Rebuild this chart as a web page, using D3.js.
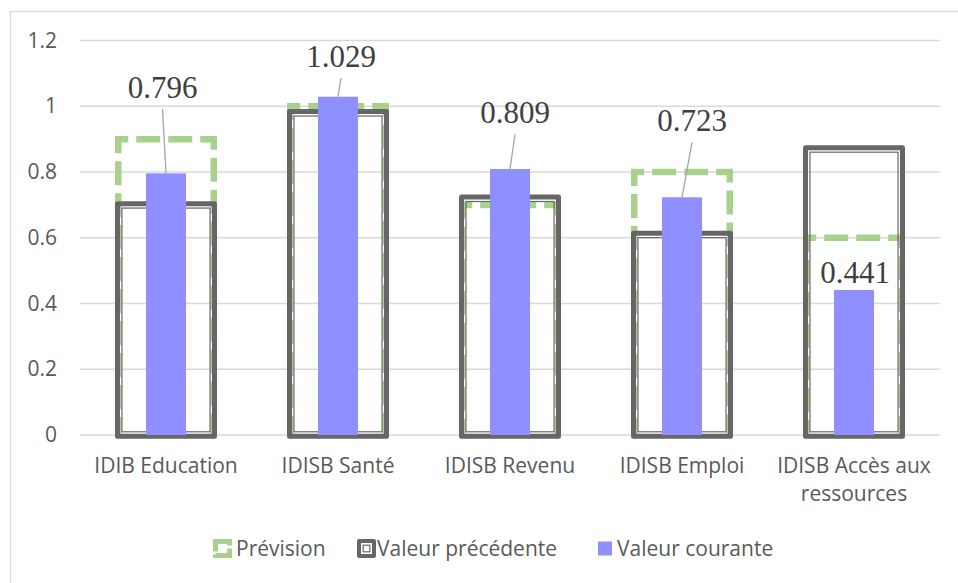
<!DOCTYPE html>
<html><head><meta charset="utf-8">
<script src="https://cdn.jsdelivr.net/npm/d3@7"></script>
<style>body{margin:0;background:#fff}</style></head>
<body>
<script>
// ---- data ----
const categories = ["IDIB Education", "IDISB Santé", "IDISB Revenu", "IDISB Emploi", "IDISB Accès aux ressources"];
const prevision  = [0.90, 1.00, 0.70, 0.80, 0.60];
const precedente = [0.70, 0.98, 0.72, 0.61, 0.87];
const courante   = [0.796, 1.029, 0.809, 0.723, 0.441];
const yTicks     = [0, 0.2, 0.4, 0.6, 0.8, 1, 1.2];
const seriesNames = ["Prévision", "Valeur précédente", "Valeur courante"];

// ---- layout (not data) ----
const W = 958, H = 583;
const labelOffsets = [[-3.5, -75.5, true], [3, -29.6, true], [5, -45.7, true], [10, -66, true], [1, -7, false]];
const GREEN = "#a9d18e", GRAY = "#666666", BLUE = "#8f8fff", TXT = "#595959";
const sansFont = "'Open Sans', 'Liberation Sans', sans-serif";
const FS = "21px";

const svg = d3.select("body").append("svg").attr("width", W).attr("height", H);
svg.append("rect").attr("width", W).attr("height", H).attr("fill", "#fff");
// outer chart border (extends past the picture right/bottom)
svg.append("rect").attr("x", 10.5).attr("y", 11.5).attr("width", 1200).attr("height", 1200)
  .attr("fill", "none").attr("stroke", "#d9d9d9").attr("stroke-width", 1.2);

const x = d3.scaleBand().domain(categories).range([80, 940]).padding(0);
const y = d3.scaleLinear().domain([0, 1.2]).range([435, 40.5]);

// gridlines
svg.append("g").selectAll("line").data(yTicks).join("line")
  .attr("x1", 80).attr("x2", 940).attr("y1", d => y(d)).attr("y2", d => y(d))
  .attr("stroke", "#d9d9d9").attr("stroke-width", 1.5);

// y axis labels
const yAxis = d3.axisLeft(y).tickValues(yTicks).tickSize(0).tickPadding(0).tickFormat(d3.format("~g"));
const ga = svg.append("g").attr("transform", "translate(57,0)").call(yAxis);
ga.select(".domain").remove();
ga.selectAll("text").attr("fill", TXT).style("font-family", sansFont).style("font-size", FS);

// x axis labels
const xAxis = d3.axisBottom(x).tickSize(0).tickPadding(0);
const gx = svg.append("g").attr("transform", "translate(0,442)").call(xAxis);
gx.select(".domain").remove();
gx.selectAll("text").attr("fill", TXT).style("font-family", sansFont).style("font-size", FS)
  .attr("dy", null).attr("y", 31)
  .each(function(d) {
    const t = d3.select(this);
    const words = d.split(" ");
    t.text(null);
    let line = [], lineNo = 0;
    let ts = t.append("tspan").attr("x", 0).attr("y", 31);
    for (const w of words) {
      line.push(w);
      ts.text(line.join(" "));
      if (ts.node().getComputedTextLength() > x.bandwidth() - 6 && line.length > 1) {
        line.pop(); ts.text(line.join(" "));
        line = [w]; lineNo++;
        ts = t.append("tspan").attr("x", 0).attr("y", 31 + lineNo * 28).text(w);
      }
    }
  });

const bw = 95.5;     // outline bar width
const cw = 40;       // current-value bar width
const cx = c => x(c) + x.bandwidth() / 2;

// Prévision: green dashed outline
const period = 32;
svg.append("g").selectAll("path").data(categories).join("path")
  .attr("d", (c, i) => {
    const L = cx(c) - bw / 2, R = cx(c) + bw / 2, T = y(prevision[i]), B = y(0);
    return `M${L},${B}L${L},${T}L${R},${T}L${R},${B}`;
  })
  .attr("fill", "none").attr("stroke", GREEN).attr("stroke-width", 6.5)
  .attr("stroke-dasharray", "24 8")
  .attr("stroke-dashoffset", (c, i) => {
    const len = y(0) - y(prevision[i]);
    return ((period - ((len - 14) % period)) % period + period) % period;
  });

// Valeur précédente: thick-thin double outline
const gp = svg.append("g");
categories.forEach((c, i) => {
  const L = cx(c) - 94.5 / 2, R = cx(c) + 94.5 / 2, T = y(precedente[i]), B = y(0);
  gp.append("rect").attr("x", L - 1.25).attr("y", T - 1.25)
    .attr("width", R - L + 2.5).attr("height", B - T + 2.5)
    .attr("fill", "none").attr("stroke", GRAY).attr("stroke-width", 5).attr("stroke-linejoin", "round");
  gp.append("rect").attr("x", L + 3.2).attr("y", T + 3.2)
    .attr("width", R - L - 6.4).attr("height", B - T - 6.4)
    .attr("fill", "none").attr("stroke", GRAY).attr("stroke-width", 1.2);
});

// Valeur courante: blue bars
svg.append("g").selectAll("rect").data(categories).join("rect")
  .attr("x", c => cx(c) - cw / 2).attr("width", cw)
  .attr("y", (c, i) => y(courante[i])).attr("height", (c, i) => y(0) - y(courante[i]))
  .attr("fill", BLUE);

// data labels + leader lines
const gl = svg.append("g");
categories.forEach((c, i) => {
  const [dx, dy, leader] = labelOffsets[i];
  const bx = cx(c), by = y(courante[i]);
  const lx = bx + dx, ly = by + dy;
  if (leader) {
    gl.append("line").attr("x1", lx).attr("y1", ly + 11).attr("x2", bx).attr("y2", by)
      .attr("stroke", "#a6a6a6").attr("stroke-width", 1.3);
  }
  gl.append("text").attr("x", lx).attr("y", ly).attr("text-anchor", "middle")
    .attr("fill", "#404040").style("font-family", "'Liberation Serif', 'Times New Roman', serif")
    .style("font-size", "31px").text(d3.format(".3f")(courante[i]));
});

// legend
const lg = svg.append("g");
const ly0 = 548.5;
// Prévision icon
lg.append("rect").attr("x", 215.5).attr("y", ly0 - 7).attr("width", 14).attr("height", 14)
  .attr("fill", "none").attr("stroke", GREEN).attr("stroke-width", 5)
  .attr("stroke-dasharray", "22 3").attr("stroke-dashoffset", 4);
lg.append("text").attr("x", 236).attr("y", ly0 + 7.5).attr("fill", TXT)
  .style("font-family", sansFont).style("font-size", FS).text(seriesNames[0]);
// Valeur précédente icon
lg.append("rect").attr("x", 359).attr("y", ly0 - 7.5).attr("width", 15).attr("height", 15)
  .attr("fill", "none").attr("stroke", GRAY).attr("stroke-width", 4).attr("stroke-linejoin", "round");
lg.append("rect").attr("x", 363.2).attr("y", ly0 - 3.3).attr("width", 6.6).attr("height", 6.6)
  .attr("fill", "none").attr("stroke", GRAY).attr("stroke-width", 1.2);
lg.append("text").attr("x", 377).attr("y", ly0 + 7.5).attr("fill", TXT)
  .style("font-family", sansFont).style("font-size", FS).text(seriesNames[1]);
// Valeur courante icon
lg.append("rect").attr("x", 598).attr("y", ly0 - 7).attr("width", 14).attr("height", 14).attr("fill", BLUE);
lg.append("text").attr("x", 617).attr("y", ly0 + 7.5).attr("fill", TXT)
  .style("font-family", sansFont).style("font-size", FS).text(seriesNames[2]);
</script>
</body></html>
